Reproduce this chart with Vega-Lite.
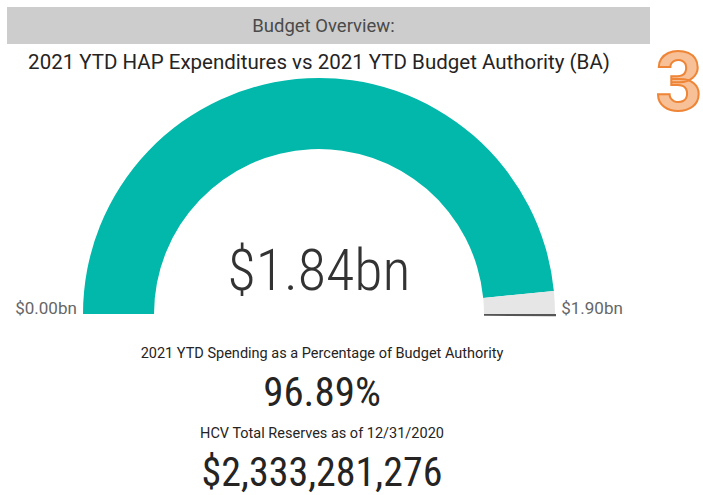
{
  "$schema": "https://vega.github.io/schema/vega-lite/v6.json",
  "padding": {"top": 7, "left": 7, "right": 0, "bottom": 0},
  "spacing": 0,
  "bounds": "flush",
  "background": "white",
  "config": {"view": {"stroke": null}, "font": "Roboto"},
  "datasets": {
    "gauge": [
      {"segment": "Spent", "value": 1.84},
      {"segment": "Remaining", "value": 0.0591}
    ],
    "ends": [
      {"label": "$0.00bn", "at": 0},
      {"label": "$1.90bn", "at": 1.8991}
    ],
    "stats": [
      {"line": 1, "kind": "caption", "label": "2021 YTD Spending as a Percentage of Budget Authority"},
      {"line": 2, "kind": "value", "label": "96.89%"},
      {"line": 3, "kind": "caption", "label": "HCV Total Reserves as of 12/31/2020"},
      {"line": 4, "kind": "value", "label": "$2,333,281,276"}
    ]
  },
  "vconcat": [
    {
      "width": 643,
      "height": 37,
      "view": {"fill": "#CDCDCD", "stroke": null},
      "data": {"values": [{"label": "Budget Overview:"}]},
      "mark": {"type": "text", "fontSize": 18.5, "color": "#4a4a4a", "dx": -5},
      "encoding": {"text": {"field": "label"}}
    },
    {
      "width": 624,
      "height": 38,
      "layer": [
        {
          "data": {"values": [{"label": "2021 YTD HAP Expenditures vs 2021 YTD Budget Authority (BA)"}]},
          "mark": {"type": "text", "fontSize": 20.5, "color": "#252423"},
          "encoding": {"text": {"field": "label"}}
        },
        {
          "data": {"values": [{"label": "3"}]},
          "mark": {"type": "text", "fontSize": 82, "fontWeight": "bold", "color": "#F8C096", "stroke": "#EE8537", "strokeWidth": 2, "dx": 48, "dy": 22},
          "encoding": {"text": {"field": "label"}, "x": {"value": "width"}}
        }
      ]
    },
    {
      "width": 624,
      "height": 232,
      "layer": [
        {
          "data": {"name": "gauge"},
          "mark": {"type": "arc", "outerRadius": 236, "innerRadius": 165},
          "encoding": {
            "theta": {"field": "value", "type": "quantitative", "scale": {"domain": [0, 1.8991], "range": [-1.5708, 1.5708], "nice": false, "zero": true}},
            "color": {"field": "segment", "type": "nominal", "scale": {"domain": ["Spent", "Remaining"], "range": ["#01B8AA", "#E6E6E6"]}, "legend": null},
            "order": {"field": "segment", "sort": "descending"},
            "y": {"value": "height"}
          }
        },
        {
          "data": {"values": [{"at": 1.8991}]},
          "mark": {"type": "arc", "outerRadius": 237, "innerRadius": 165, "theta2Offset": 0.01, "color": "#555555"},
          "encoding": {
            "theta": {"field": "at", "type": "quantitative", "stack": null, "scale": {"domain": [0, 1.8991], "range": [-1.5708, 1.5708], "nice": false, "zero": true}},
            "theta2": {"field": "at"},
            "y": {"value": "height"}
          }
        },
        {
          "data": {"name": "ends"},
          "mark": {"type": "text", "radius": 273, "fontSize": 17, "color": "#666666", "baseline": "alphabetic"},
          "encoding": {
            "theta": {"field": "at", "type": "quantitative", "stack": null, "scale": {"domain": [0, 1.8991], "range": [-1.5708, 1.5708], "nice": false, "zero": true}},
            "text": {"field": "label"},
            "y": {"value": "height"}
          }
        },
        {
          "data": {"values": [{"label": "$1.84bn"}]},
          "mark": {"type": "text", "font": "Roboto Condensed, Roboto", "fontSize": 58, "fontWeight": 300, "color": "#333333", "baseline": "alphabetic", "dy": -24},
          "encoding": {"text": {"field": "label"}, "y": {"value": "height"}}
        }
      ]
    },
    {
      "width": 630,
      "height": 200,
      "data": {"name": "stats"},
      "layer": [
        {
          "transform": [{"filter": "datum.kind == 'caption'"}],
          "mark": {"type": "text", "fontSize": 14.5, "color": "#252423"},
          "encoding": {
            "text": {"field": "label"},
            "y": {"field": "line", "type": "ordinal", "scale": {"type": "point", "domain": [1, 2, 3, 4], "padding": 1}, "axis": null}
          }
        },
        {
          "transform": [{"filter": "datum.kind == 'value'"}],
          "mark": {"type": "text", "font": "Roboto Condensed, Liberation Sans Narrow, DejaVu Sans Condensed, Roboto", "color": "#252423"},
          "encoding": {
            "text": {"field": "label"},
            "y": {"field": "line", "type": "ordinal", "scale": {"type": "point", "domain": [1, 2, 3, 4], "padding": 1}, "axis": null},
            "size": {"field": "line", "type": "ordinal", "scale": {"domain": [2, 4], "range": [41, 40]}, "legend": null}
          }
        }
      ]
    }
  ]
}
